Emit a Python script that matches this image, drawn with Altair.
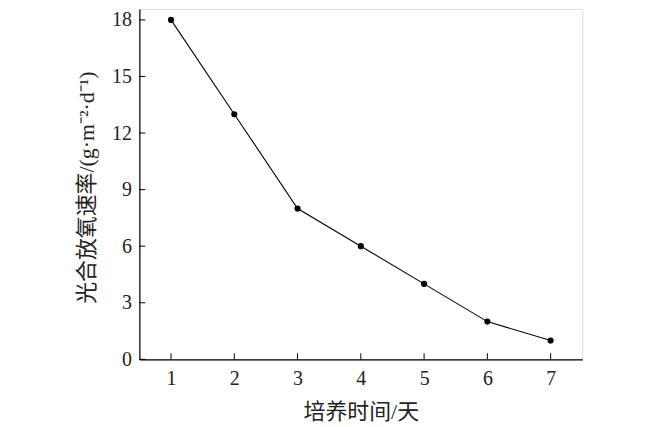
import altair as alt
import pandas as pd

days = [1, 2, 3, 4, 5, 6, 7]
rates = [18, 13, 8, 6, 4, 2, 1]
x_ticks = [1, 2, 3, 4, 5, 6, 7]
y_ticks = [0, 3, 6, 9, 12, 15, 18]

df = pd.DataFrame({"day": days, "rate": rates})
xt = pd.DataFrame({"v": x_ticks})
yt = pd.DataFrame({"v": y_ticks})

W, H = 445, 352
numfont = "Liberation Serif"
cjkfont = "Liberation Serif, Noto Sans CJK SC"

xscale = alt.Scale(domain=[0.5, 7.5], nice=False, zero=False)
yscale = alt.Scale(domain=[0, 18.58], nice=False)

xaxis = alt.Axis(values=x_ticks, format="d", tickSize=0, labelPadding=9, labelFontSize=20,
                 labelFont=numfont, labelColor="#222", domainColor="#000", domainWidth=1.2,
                 grid=False, title="培养时间/天", titleFont=cjkfont, titleFontSize=22,
                 titleFontWeight="normal", titleColor="#222", titleBaseline="middle",
                 titleY=52, titleX=W / 2)
yaxis = alt.Axis(values=y_ticks, format="d", tickSize=0, labelPadding=8, labelFontSize=20,
                 labelFont=numfont, labelColor="#222", domainColor="#000", domainWidth=1.2,
                 grid=False, title="光合放氧速率/(g·m⁻²·d⁻¹)", titleFont=cjkfont,
                 titleFontSize=22, titleFontWeight="normal", titleColor="#222",
                 titleAngle=270, titleBaseline="middle", titleX=-53, titleY=H / 2 + 3)

base = alt.Chart(df)
line = base.mark_line(color="#000", strokeWidth=1.1).encode(
    x=alt.X("day:Q", scale=xscale, axis=xaxis),
    y=alt.Y("rate:Q", scale=yscale, axis=yaxis),
)
pts = base.mark_point(filled=True, color="#000", size=38, opacity=1).encode(
    x=alt.X("day:Q", scale=xscale),
    y=alt.Y("rate:Q", scale=yscale),
)
xticks = alt.Chart(xt).mark_rule(color="#000", strokeWidth=1).encode(
    x=alt.X("v:Q", scale=xscale),
    y=alt.value(H),
    y2=alt.value(H - 6),
)
yticks = alt.Chart(yt).mark_rule(color="#000", strokeWidth=1).encode(
    y=alt.Y("v:Q", scale=yscale),
    x=alt.value(0),
    x2=alt.value(6),
)

chart = alt.layer(line, xticks, yticks, pts).properties(
    width=W, height=H,
    autosize=alt.AutoSizeParams(type="none"),
    padding={"left": 132, "top": 0, "right": 60, "bottom": 66},
).configure_view(stroke=None).configure(background="#ffffff")

chart.save("out.html", embed_options={"renderer": "svg", "actions": False})
